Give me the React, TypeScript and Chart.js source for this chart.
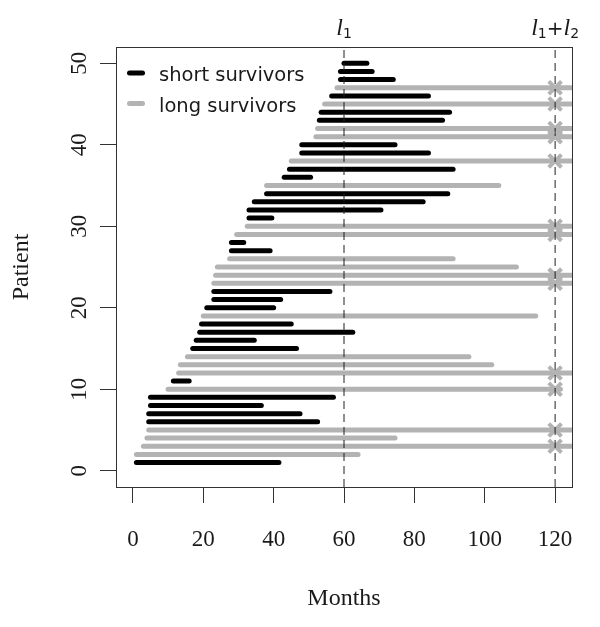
import React, { useEffect, useRef } from "react";
import { Chart, registerables } from "chart.js";

Chart.register(...registerables);

// ---- data ----
const PATIENTS = [
  1, 2, 3, 4, 5, 6, 7, 8, 9, 10,
  11, 12, 13, 14, 15, 16, 17, 18, 19, 20,
  21, 22, 23, 24, 25, 26, 27, 28, 29, 30,
  31, 32, 33, 34, 35, 36, 37, 38, 39, 40,
  41, 42, 43, 44, 45, 46, 47, 48, 49, 50,
];
const START_MONTHS = [
  1, 1, 3, 4, 4.5, 4.5, 4.5, 5, 5, 10,
  11.5, 13, 13.5, 15.5, 17, 18, 19, 19.5, 20, 21,
  23, 23, 23, 23.5, 24, 27.5, 28, 28, 29.5, 32.5,
  33, 33, 34.5, 38, 38, 43, 44.5, 45, 48, 48,
  52, 52.5, 53, 53.5, 54.5, 56.5, 58, 59, 59, 60,
];
const END_MONTHS = [
  41.5, 64, 125, 74.5, 125, 52.5, 47.5, 36.5, 57, 121.5,
  16, 125, 102, 95.5, 46.5, 34.5, 62.5, 45, 114.5, 40,
  42, 56, 125, 125, 109, 91, 39, 31.5, 125, 125,
  39.5, 70.5, 82.5, 89.5, 104, 50.5, 91, 125, 84, 74.5,
  125, 125, 88, 90, 125, 84, 125, 74, 68, 66.5,
];
// S = short survivor, L = long survivor
const GROUPS = [
  "S", "L", "L", "L", "L", "S", "S", "S", "S", "L",
  "S", "L", "L", "L", "S", "S", "S", "S", "L", "S",
  "S", "S", "L", "L", "L", "L", "S", "S", "L", "L",
  "S", "S", "S", "S", "L", "S", "S", "L", "S", "S",
  "L", "L", "S", "S", "L", "S", "L", "S", "S", "S",
];
const CENSORED = [
  0, 0, 1, 0, 1, 0, 0, 0, 0, 1,
  0, 1, 0, 0, 0, 0, 0, 0, 0, 0,
  0, 0, 1, 1, 0, 0, 0, 0, 1, 1,
  0, 0, 0, 0, 0, 0, 0, 1, 0, 0,
  1, 1, 0, 0, 1, 0, 1, 0, 0, 0,
];
const X_TICKS = [0, 20, 40, 60, 80, 100, 120];
const Y_TICKS = [0, 10, 20, 30, 40, 50];
const CUTOFFS = [60, 120];
const CUTOFF_LABELS = ["l_1", "l_1+l_2"];
const LEGEND_LABELS = ["short survivors", "long survivors"];
const X_MIN = -4.8, X_MAX = 124.8, Y_MIN = -2, Y_MAX = 52;

const BLACK = "#000000";
const GRAY = "#b3b3b3";
const AXIS = "#333333";
const TEXT = "#1a1a1a";

function drawMathLabel(ctx: CanvasRenderingContext2D, label: string, cx: number, baseline: number) {
  const parts: { t: string; font: string; dy: number }[] = [];
  for (let i = 0; i < label.length; i++) {
    const ch = label[i];
    if (ch === "_") {
      parts.push({ t: label[i + 1], font: '14px "DejaVu Sans"', dy: 3 });
      i++;
    } else if (ch === "+") {
      parts.push({ t: "+", font: '20px "DejaVu Sans"', dy: 0 });
    } else {
      parts.push({ t: ch, font: 'italic 24px "Liberation Serif"', dy: 0 });
    }
  }
  let total = 0;
  const widths = parts.map((p) => {
    ctx.font = p.font;
    const w = ctx.measureText(p.t).width;
    total += w;
    return w;
  });
  let x = cx - total / 2;
  ctx.textAlign = "left";
  ctx.textBaseline = "alphabetic";
  parts.forEach((p, k) => {
    ctx.font = p.font;
    ctx.fillText(p.t, x, baseline + p.dy);
    x += widths[k];
  });
}

const overlayPlugin = {
  id: "overlay",
  afterDraw(chart: any) {
    const ctx: CanvasRenderingContext2D = chart.ctx;
    const xs = chart.scales.x;
    const ys = chart.scales.y;
    const area = chart.chartArea;
    ctx.save();
    ctx.fillStyle = TEXT;
    ctx.font = '23px "Liberation Serif"';
    ctx.textAlign = "center";
    ctx.textBaseline = "middle";
    for (const v of Y_TICKS) {
      const py = ys.getPixelForValue(v);
      ctx.save();
      ctx.translate(80, py);
      ctx.rotate(-Math.PI / 2);
      ctx.fillText(String(v), 0, 0);
      ctx.restore();
    }
    CUTOFFS.forEach((c, i) => {
      drawMathLabel(ctx, CUTOFF_LABELS[i], xs.getPixelForValue(c), area.top - 12);
    });
    const rows = [
      { label: LEGEND_LABELS[0], color: BLACK, y: area.top + 26 },
      { label: LEGEND_LABELS[1], color: GRAY, y: area.top + 56.5 },
    ];
    ctx.lineCap = "round";
    ctx.lineWidth = 5;
    ctx.font = '19.5px "DejaVu Sans"';
    ctx.textAlign = "left";
    ctx.textBaseline = "alphabetic";
    for (const r of rows) {
      ctx.strokeStyle = r.color;
      ctx.beginPath();
      ctx.moveTo(area.left + 13.5, r.y);
      ctx.lineTo(area.left + 26.5, r.y);
      ctx.stroke();
      ctx.fillStyle = TEXT;
      ctx.fillText(r.label, area.left + 43, r.y + 8);
    }
    ctx.restore();
  },
};

export default function App() {
  const ref = useRef<HTMLCanvasElement | null>(null);

  useEffect(() => {
    if (!ref.current) return;
    const datasets: any[] = [];
    CUTOFFS.forEach((c) => {
      datasets.push({
        data: [{ x: c, y: Y_MIN }, { x: c, y: Y_MAX }],
        showLine: true,
        borderColor: "#1f1f1f",
        borderWidth: 1,
        borderDash: [8, 5],
        pointRadius: 0,
        clip: 0,
        xAxisID: "x",
        yAxisID: "y",
      });
    });
    datasets.push({
      data: PATIENTS.filter((_, i) => CENSORED[i]).map((p) => ({ x: CUTOFFS[1], y: p })),
      showLine: false,
      pointStyle: "crossRot",
      pointRadius: 9,
      borderWidth: 4,
      borderColor: GRAY,
      backgroundColor: GRAY,
      clip: 0,
      xAxisID: "x",
      yAxisID: "y",
    });
    PATIENTS.forEach((p, i) => {
      datasets.push({
        data: [{ x: START_MONTHS[i], y: p }, { x: END_MONTHS[i], y: p }],
        showLine: true,
        borderColor: GROUPS[i] === "S" ? BLACK : GRAY,
        borderWidth: 5,
        borderCapStyle: "round",
        pointRadius: 0,
        clip: 0,
        xAxisID: "x",
        yAxisID: "y",
      });
    });

    const chart = new Chart(ref.current, {
      type: "scatter",
      data: { datasets },
      options: {
        responsive: false,
        maintainAspectRatio: false,
        devicePixelRatio: 1,
        animation: false,
        events: [],
        layout: { padding: 0 },
        plugins: { legend: { display: false }, tooltip: { enabled: false } },
        scales: {
          x: {
            type: "linear",
            position: "bottom",
            min: X_MIN,
            max: X_MAX,
            afterBuildTicks: (s: any) => {
              s.ticks = X_TICKS.map((v) => ({ value: v }));
            },
            afterFit: (s: any) => {
              s.height = 140;
            },
            grid: { display: true, drawOnChartArea: false, drawTicks: true, tickLength: 16, color: AXIS, lineWidth: 1 },
            border: { display: true, color: AXIS, width: 1 },
            ticks: {
              autoSkip: false,
              maxRotation: 0,
              padding: 23,
              color: TEXT,
              font: { family: "Liberation Serif", size: 23 },
              callback: (v: any) => String(v),
            },
            title: {
              display: true,
              text: "Months",
              color: TEXT,
              font: { family: "Liberation Serif", size: 24 },
              padding: { top: 0, bottom: 14 },
            },
          },
          x2: {
            type: "linear",
            position: "top",
            min: X_MIN,
            max: X_MAX,
            afterFit: (s: any) => {
              s.height = 47;
            },
            grid: { display: false },
            border: { display: true, color: AXIS, width: 1 },
            ticks: { display: false },
          },
          y: {
            type: "linear",
            position: "left",
            min: Y_MIN,
            max: Y_MAX,
            afterBuildTicks: (s: any) => {
              s.ticks = Y_TICKS.map((v) => ({ value: v }));
            },
            afterFit: (s: any) => {
              s.width = 116;
            },
            grid: { display: true, drawOnChartArea: false, drawTicks: true, tickLength: 16, color: AXIS, lineWidth: 1 },
            border: { display: true, color: AXIS, width: 1 },
            ticks: { display: false },
            title: {
              display: true,
              text: "Patient",
              color: TEXT,
              font: { family: "Liberation Serif", size: 24 },
              padding: { top: 7, bottom: 0 },
            },
          },
          y2: {
            type: "linear",
            position: "right",
            min: Y_MIN,
            max: Y_MAX,
            afterFit: (s: any) => {
              s.width = 28;
            },
            grid: { display: false },
            border: { display: true, color: AXIS, width: 1 },
            ticks: { display: false },
          },
        },
      } as any,
      plugins: [overlayPlugin],
    });
    return () => chart.destroy();
  }, []);

  return (
    <div style={{ position: "absolute", left: 0, top: 0, width: 600, height: 627, background: "#fff" }}>
      <canvas ref={ref} width={600} height={627} style={{ width: 600, height: 627, display: "block" }} />
    </div>
  );
}
